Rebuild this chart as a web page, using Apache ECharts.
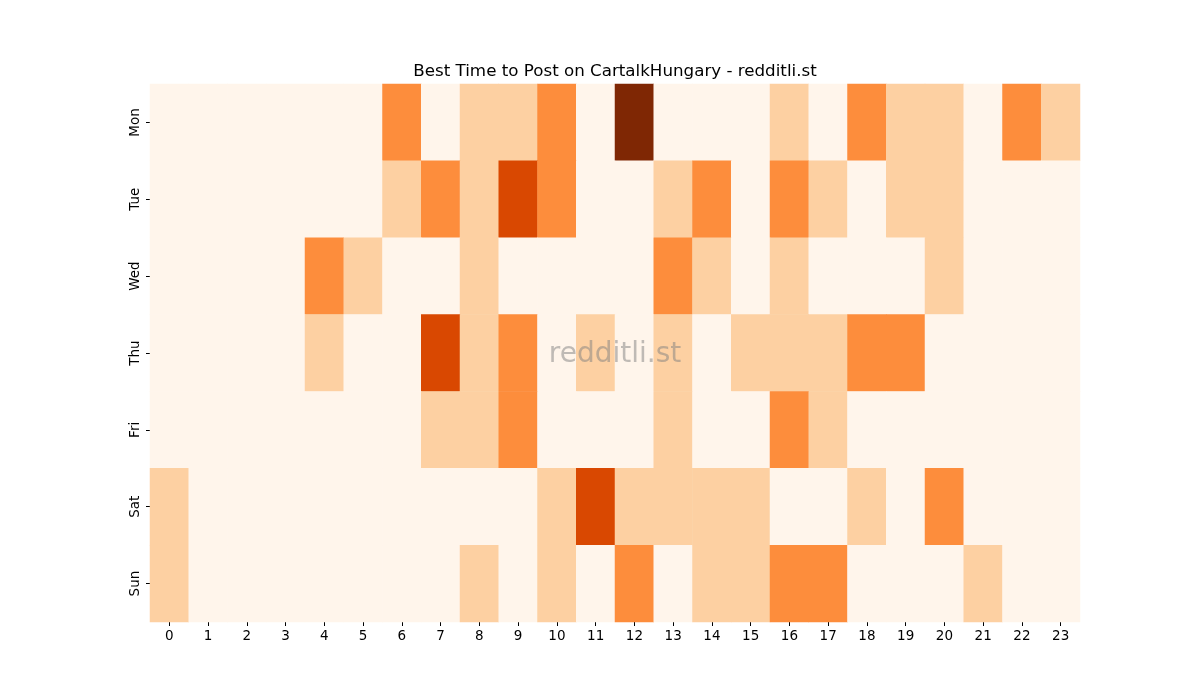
<!DOCTYPE html>
<html>
<head>
<meta charset="utf-8">
<script src="https://cdn.jsdelivr.net/npm/echarts@6/dist/echarts.min.js"></script>
<style>html,body{margin:0;padding:0;background:#fff}#c{width:1200px;height:700px}</style>
</head>
<body>
<div id="c"></div>
<script>
const hours = ["0","1","2","3","4","5","6","7","8","9","10","11","12","13","14","15","16","17","18","19","20","21","22","23"];
const days = ["Mon","Tue","Wed","Thu","Fri","Sat","Sun"];
const mon = [0,0,0,0,0,0,2,0,1,1,2,0,4,0,0,0,1,0,2,1,1,0,2,1];
const tue = [0,0,0,0,0,0,1,2,1,3,2,0,0,1,2,0,2,1,0,1,1,0,0,0];
const wed = [0,0,0,0,2,1,0,0,1,0,0,0,0,2,1,0,1,0,0,0,1,0,0,0];
const thu = [0,0,0,0,1,0,0,3,1,2,0,1,0,1,0,1,1,1,2,2,0,0,0,0];
const fri = [0,0,0,0,0,0,0,1,1,2,0,0,0,1,0,0,2,1,0,0,0,0,0,0];
const sat = [1,0,0,0,0,0,0,0,0,0,1,3,1,1,1,1,0,0,1,0,2,0,0,0];
const sun = [1,0,0,0,0,0,0,0,1,0,1,0,2,0,1,1,2,2,0,0,0,1,0,0];
const rows = [mon,tue,wed,thu,fri,sat,sun];
const data = [];
rows.forEach((r, d) => r.forEach((v, h) => data.push([h, d, v])));

const chart = echarts.init(document.getElementById('c'));
const font = 'DejaVu Sans';
chart.setOption({
  animation: false,
  grid: {left: 150, right: 120, top: 84, bottom: 78},
  xAxis: {
    type: 'category', data: hours,
    axisLine: {show: false},
    axisTick: {show: true, alignWithLabel: true, length: 4, lineStyle: {color: '#000'}},
    axisLabel: {fontFamily: font, fontSize: 13.5, color: '#000', margin: 7},
    splitLine: {show: false}
  },
  yAxis: {
    type: 'category', data: days, inverse: true,
    axisLine: {show: false},
    axisTick: {show: true, alignWithLabel: true, length: 4, lineStyle: {color: '#000'}},
    axisLabel: {fontFamily: font, fontSize: 13.5, color: '#000', rotate: 90, margin: 8},
    splitLine: {show: false}
  },
  visualMap: {
    show: false, type: 'piecewise', dimension: 2,
    pieces: [
      {value: 0, color: '#fff5eb'},
      {value: 1, color: '#fdd0a2'},
      {value: 2, color: '#fd8d3c'},
      {value: 3, color: '#d94801'},
      {value: 4, color: '#7f2704'}
    ]
  },
  graphic: [{
    type: 'text', x: 615, y: 72, z: 100,
    style: {text: 'Best Time to Post on CartalkHungary - redditli.st', font: '16.7px "DejaVu Sans"', fill: '#000', align: 'center', verticalAlign: 'middle'}
  }, {
    type: 'text', x: 615, y: 355, z: 100,
    style: {text: 'redditli.st', font: '28px "DejaVu Sans"', fill: 'rgba(128,128,128,0.5)', align: 'center', verticalAlign: 'middle'}
  }],
  series: [{
    type: 'heatmap', data: data,
    itemStyle: {borderWidth: 0},
    emphasis: {disabled: true}
  }]
});
</script>
</body>
</html>
